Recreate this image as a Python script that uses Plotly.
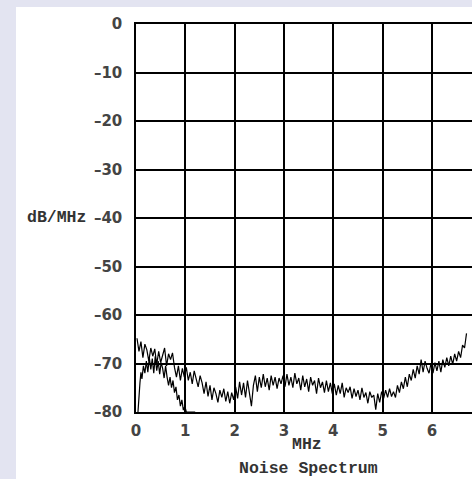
import plotly.graph_objects as go

# ---- data ----
freq_start = 0.02
freq_step = 0.04
noise_main = [
    -64.8, -67.5, -65.5, -68.8, -66.0, -67.2, -69.5, -66.8, -68.5, -67.0,
    -70.2, -67.5, -69.8, -68.2, -66.8, -70.5, -68.0, -69.2, -67.8, -70.8,
    -72.8, -70.5, -73.5, -71.0, -72.8,
    -70.8, -73.5, -71.8, -74.2, -71.5, -73.0, -74.8, -72.5, -74.0, -76.2,
    -73.8, -76.8, -74.5, -77.5, -75.0, -76.2, -78.0, -75.5, -77.0, -75.2,
    -77.8, -75.8, -78.2, -76.0, -77.5,
    -74.8, -77.2, -73.8, -76.5, -74.0, -77.0, -73.5, -76.2, -78.8, -74.5,
    -72.5, -75.8, -72.8, -75.0, -72.2, -74.8, -73.0, -75.5, -72.5, -74.5,
    -72.8, -75.2, -73.0, -74.2, -72.5,
    -74.8, -72.2, -74.5, -72.8, -75.0, -72.0, -74.2, -73.0, -75.5, -72.5,
    -74.8, -73.2, -75.8, -72.8, -74.5, -73.5, -76.2, -73.0, -75.0, -73.8,
    -76.0, -73.5, -75.8, -74.0, -76.2,
    -74.2, -76.5, -74.5, -76.2, -74.0, -77.0, -75.0, -76.0, -74.8, -77.2,
    -75.2, -76.8, -75.5, -77.5, -75.0, -77.0, -76.0, -78.2, -75.8, -77.0,
    -76.5, -79.5, -76.2, -78.0, -75.8,
    -77.2, -75.5, -77.0, -75.2, -76.8, -75.8, -77.0, -74.5, -76.0, -73.8,
    -75.2, -72.8, -74.8, -72.2, -73.5, -71.2, -73.0, -70.5, -72.2, -69.2,
    -71.8, -69.5, -71.0, -72.0, -70.0,
    -72.0, -69.8, -71.5, -69.5, -71.8, -69.2, -70.8, -68.8, -70.5, -68.5,
    -70.2, -68.0, -69.5, -67.5, -68.8, -66.2, -66.8, -63.8,
]
freq_main = [round(freq_start + i * freq_step, 3) for i in range(len(noise_main))]

freq_low = [0.04, 0.06, 0.08, 0.10, 0.12, 0.15, 0.18, 0.21, 0.24, 0.27,
            0.30, 0.33, 0.36, 0.39, 0.42, 0.45, 0.48, 0.51, 0.54, 0.57,
            0.60, 0.63, 0.66, 0.69, 0.72, 0.75, 0.78, 0.81, 0.84, 0.87,
            0.90, 0.93, 0.96, 0.99, 1.02, 1.20]
noise_low = [-80.0, -75.5, -74.0, -71.8, -73.2, -70.5, -72.0, -69.5, -71.8, -68.8,
             -71.2, -69.0, -72.0, -68.5, -71.5, -69.5, -72.2, -69.8, -71.0, -73.0,
             -70.5, -72.8, -74.5, -72.8, -75.0, -73.5, -76.0, -74.8, -77.5, -76.5,
             -78.8, -77.5, -79.6, -78.8, -80.0, -80.0]

x_ticks = [0, 1, 2, 3, 4, 5, 6]
y_ticks = [0, -10, -20, -30, -40, -50, -60, -70, -80]
y_ticktext = [str(v).replace("-", "\u2013") for v in y_ticks]

# ---- layout constants ----
W, H = 472, 479
ML, MR, MT, MB = 136, 0, 24, 67
PW, PH = W - ML - MR, H - MT - MB

def px_x(p):
    return (p - ML) / PW

def px_y(p):
    return (H - MB - p) / PH

fig = go.Figure()
fig.add_trace(go.Scatter(x=freq_main, y=noise_main, mode="lines",
                         line=dict(color="black", width=1.2), showlegend=False))
fig.add_trace(go.Scatter(x=freq_low, y=noise_low, mode="lines",
                         line=dict(color="black", width=1.2), showlegend=False))

tickfont = dict(family="DejaVu Sans", size=15, color="#444444", weight="bold")
titlefont = dict(family="Liberation Mono", size=16.5, color="#333333", weight="bold")

fig.update_layout(
    width=W, height=H,
    margin=dict(l=ML, r=MR, t=MT, b=MB, pad=0),
    paper_bgcolor="#e3e4f1",
    plot_bgcolor="white",
    xaxis=dict(range=[0, (W - ML) / 49.33], tickvals=x_ticks, ticks="",
               showgrid=True, gridcolor="black", gridwidth=1.5,
               showline=True, linecolor="black", linewidth=1.5, mirror=True,
               zeroline=False, tickfont=tickfont, ticklabelstandoff=4,
               fixedrange=True),
    yaxis=dict(range=[-80, 0], tickvals=y_ticks, ticktext=y_ticktext, ticks="",
               showgrid=True, gridcolor="black", gridwidth=1.5,
               showline=True, linecolor="black", linewidth=1.5,
               zeroline=False, tickfont=tickfont, ticklabelstandoff=9,
               fixedrange=True),
    shapes=[dict(type="rect", xref="paper", yref="paper",
                 x0=px_x(16), x1=1.05, y0=px_y(H + 5), y1=px_y(7),
                 fillcolor="white", line=dict(width=0), layer="below")],
    annotations=[
        dict(text="dB/MHz", x=px_x(56), y=px_y(217), xref="paper", yref="paper",
             showarrow=False, font=titlefont, xanchor="center", yanchor="middle"),
        dict(text="MHz", x=px_x(307), y=px_y(445), xref="paper", yref="paper",
             showarrow=False, font=titlefont, xanchor="center", yanchor="middle"),
        dict(text="Noise Spectrum", x=px_x(308), y=px_y(468), xref="paper", yref="paper",
             showarrow=False, font=titlefont, xanchor="center", yanchor="middle"),
    ],
)

fig.write_html("out.html", config={"displayModeBar": False})
